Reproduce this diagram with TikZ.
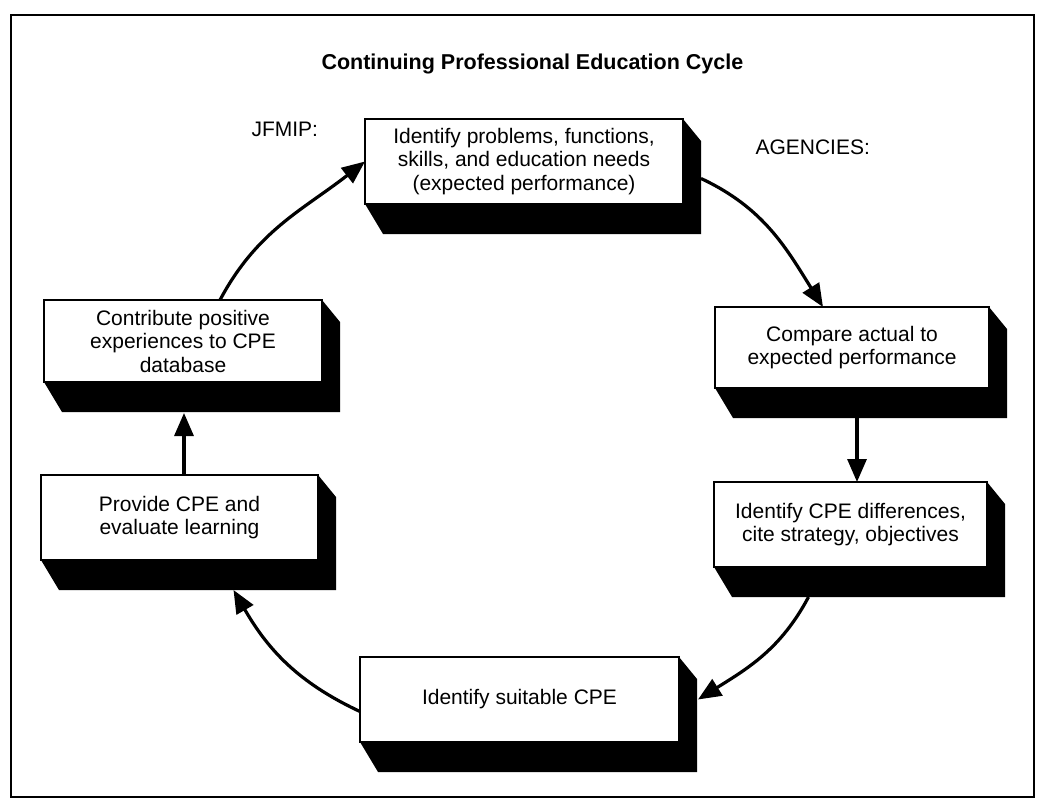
\documentclass[tikz,border=0pt]{standalone}
\usepackage{fontspec}
\setmainfont{Liberation Sans}
\usetikzlibrary{arrows.meta,backgrounds,calc}
\begin{document}
\begin{tikzpicture}[x=1pt,y=1pt,
  face/.style={draw=black, fill=white, line width=2.8pt, rectangle,
    inner sep=0pt, outer sep=0pt, align=center,
    font=\fontsize{21}{23.5}\selectfont},
  flow/.style={line width=3.2pt, -{Triangle[length=23pt,width=19pt]}},
  tag/.style={anchor=base west, font=\fontsize{21}{24}\selectfont}]
\useasboundingbox (0,0) rectangle (1041,-805);

% outer frame
\draw[line width=2.2pt] (11,-15) rectangle (1034,-797);

% heading and side labels
\node[anchor=base west, font=\bfseries\fontsize{21.5}{24}\selectfont] (title)
  at (318,-70) {Continuing Professional Education Cycle};
\node[tag] (jfmip) at (248,-137) {JFMIP:};
\node[tag] (agencies) at (752,-155) {AGENCIES:};

% the six steps of the cycle
\node[face, minimum width=318pt, minimum height=85pt] (top) at (524,-161.5)
  {Identify problems, functions,\\skills, and education needs\\(expected performance)};
\node[face, minimum width=274pt, minimum height=81pt] (cmp) at (852,-347.5)
  {Compare actual to\\expected performance};
\node[face, minimum width=273pt, minimum height=85pt] (dif) at (850.5,-524.5)
  {Identify CPE differences,\\cite strategy, objectives};
\node[face, minimum width=319pt, minimum height=85pt] (bot) at (519.5,-699.5)
  {Identify suitable CPE};
\node[face, minimum width=277pt, minimum height=85pt] (prv) at (179.5,-517.5)
  {Provide CPE and\\evaluate learning};
\node[face, minimum width=278pt, minimum height=82pt] (ctb) at (183,-341)
  {Contribute positive\\experiences to CPE\\database};

% solid black depth under and to the right of every step
\begin{pgfonlayer}{background}
\foreach \n in {top,cmp,dif,bot,prv,ctb} {
  \fill[black] (\n.south west) -- ++(18,-30)
    -- ($(\n.south east)+(18,-30)$)
    -- ($(\n.north east)+(18,-22)$)
    -- (\n.north east) -- cycle;
}
\end{pgfonlayer}

% connectors around the cycle
\coordinate (c3) at ([xshift=5pt]cmp.south);
\path (c3) ++(0,-30) coordinate (c3s);
\coordinate (c3e) at (c3 |- dif.north);
\coordinate (c6) at ([xshift=4.5pt]prv.north);
\path (c6 |- ctb.south) ++(0,-31) coordinate (c6e);

\draw[flow] ([xshift=37pt]ctb.north) to[out=62,in=-142] (top.west);
\draw[flow] ([xshift=18pt,yshift=-17pt]top.east) to[out=-25,in=122] ([xshift=-29pt]cmp.north);
\draw[flow] (c3s) -- (c3e);
\draw[flow] ([xshift=-42pt,yshift=-30pt]dif.south) to[out=-118,in=32] ([xshift=19pt]bot.east);
\draw[flow] ([yshift=-12pt]bot.west) to[out=155,in=-60] ([xshift=54pt,yshift=-30pt]prv.south);
\draw[flow] (c6) -- (c6e);
\end{tikzpicture}
\end{document}
